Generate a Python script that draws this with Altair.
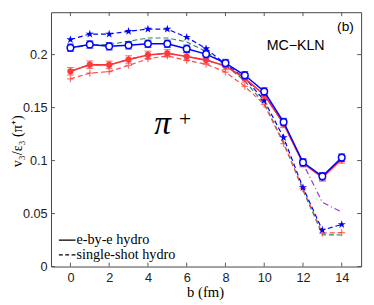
import altair as alt
import pandas as pd

b = list(range(15))

# e-by-e hydro (solid)
blue_eb = [0.2065, 0.2095, 0.2078, 0.2088, 0.2102, 0.2102, 0.2055, 0.2005, 0.1920, 0.1805, 0.1652, 0.1364, 0.0983, 0.0852, 0.1028]
red_eb = [0.1843, 0.1905, 0.1903, 0.1954, 0.1997, 0.2012, 0.1982, 0.1948, 0.1893, 0.1775, 0.1620, 0.1347, 0.0975, 0.0840, 0.1010]
purple_dd = [0.1843, 0.1905, 0.1903, 0.1954, 0.1997, 0.2012, 0.1982, 0.1948, 0.1893, 0.1775, 0.1620, 0.1347, 0.0975, 0.0606, 0.0514]
err_blue = [0.0035] * 15
err_red = [0.0035] * 15

# single-shot hydro (dashed)
blue_ss = [0.2142, 0.2194, 0.2194, 0.2220, 0.2241, 0.2241, 0.2164, 0.2056, 0.1910, 0.1780, 0.1567, 0.1217, 0.0745, 0.0344, 0.0397]
green_ss = [0.2060, 0.2090, 0.2095, 0.2126, 0.2157, 0.2157, 0.2120, 0.2030, 0.1900, 0.1750, 0.1540, 0.1170, 0.0720, 0.0300, 0.0298]
red_ss = [0.1771, 0.1825, 0.1840, 0.1898, 0.1960, 0.1988, 0.1945, 0.1910, 0.1835, 0.1700, 0.1530, 0.1160, 0.0735, 0.0315, 0.0320]

xticks = [0, 2, 4, 6, 8, 10, 12, 14]
yticks = [0, 0.05, 0.1, 0.15, 0.2]

W, H = 317, 260
xs = alt.Scale(domain=[-1, 15], nice=False, zero=False)
ys = alt.Scale(domain=[0, 0.24], nice=False, zero=False)

STAR = ("M0,-1L0.2245,-0.309L0.951,-0.309L0.363,0.118L0.588,0.809L0,0.382"
        "L-0.588,0.809L-0.363,0.118L-0.951,-0.309L-0.2245,-0.309Z")
PLUS = "M-1,0L1,0M0,-1L0,1"

XAX = alt.Axis(values=xticks, ticks=False, domain=False, grid=False, title=None,
               labelFont="Liberation Sans", labelFontSize=13, labelColor="#222", labelPadding=5)
YAX = alt.Axis(values=yticks, format="~g", ticks=False, domain=False, grid=False, title=None,
               labelFont="Liberation Sans", labelFontSize=13, labelColor="#222", labelPadding=4)


def frame(vals, err=None):
    d = pd.DataFrame({"b": b, "v": vals})
    if err is not None:
        d["lo"] = [v - e for v, e in zip(vals, err)]
        d["hi"] = [v + e for v, e in zip(vals, err)]
    return d


def XE(f="b"):
    return alt.X(f"{f}:Q", scale=xs, axis=XAX, title=None)


def YE(f="v"):
    return alt.Y(f"{f}:Q", scale=ys, axis=YAX, title=None)


dash = [5, 3]


def line(vals, color, dashv=None, width=1.3):
    kw = dict(color=color, strokeWidth=width)
    if dashv:
        kw["strokeDash"] = dashv
    return alt.Chart(frame(vals)).mark_line(**kw).encode(x=XE(), y=YE())


green_line = line(green_ss, "#2e8b57", dash, 1.2)
red_ss_line = line(red_ss, "#ff4a4a", dash, 1.2)
red_ss_pts = alt.Chart(frame(red_ss)).mark_point(
    shape=PLUS, filled=False, color="#ff3a3a", size=45, strokeWidth=1.3
).encode(x=XE(), y=YE())
blue_ss_line = line(blue_ss, "#0000ff", dash, 1.2)
blue_ss_pts = alt.Chart(frame(blue_ss)).mark_point(
    shape=STAR, filled=True, color="#0000ff", size=75, opacity=1
).encode(x=XE(), y=YE())
purple_line = line(purple_dd, "#9b30d9", [6, 3, 1, 3], 1.2)


def errbars(vals, err, color, width):
    d = frame(vals, err)
    r = alt.Chart(d).mark_rule(color=color, strokeWidth=width).encode(x=XE(), y=YE("lo"), y2="hi:Q")
    c1 = alt.Chart(d).mark_tick(color=color, thickness=width, size=7, orient="horizontal").encode(x=XE(), y=YE("lo"))
    c2 = alt.Chart(d).mark_tick(color=color, thickness=width, size=7, orient="horizontal").encode(x=XE(), y=YE("hi"))
    return [r, c1, c2]


red_eb_line = line(red_eb, "#ff3030", None, 1.6)
red_err = errbars(red_eb, err_red, "#ff4040", 1.2)
red_eb_pts = alt.Chart(frame(red_eb)).mark_point(
    shape="circle", filled=True, color="#ff3a3a", size=40, opacity=1
).encode(x=XE(), y=YE())

blue_eb_line = line(blue_eb, "#0000ff", None, 1.5)
blue_err = errbars(blue_eb, err_blue, "#0000ff", 1.1)
blue_eb_pts = alt.Chart(frame(blue_eb)).mark_point(
    shape="circle", filled=True, fill="white", stroke="#0000ff", strokeWidth=1.5, size=45, opacity=1
).encode(x=XE(), y=YE())

# inward ticks (box style)
tick_col = "#555"
xt = pd.DataFrame({"b": xticks})
yt = pd.DataFrame({"v": yticks})
tb = alt.Chart(xt).mark_rule(color=tick_col).encode(x=XE(), y=alt.value(H), y2=alt.value(H - 4))
tt = alt.Chart(xt).mark_rule(color=tick_col).encode(x=XE(), y=alt.value(0), y2=alt.value(4))
tl = alt.Chart(yt).mark_rule(color=tick_col).encode(y=YE(), x=alt.value(0), x2=alt.value(4))
tr = alt.Chart(yt).mark_rule(color=tick_col).encode(y=YE(), x=alt.value(W), x2=alt.value(W - 4))


def text(t, x, y, size, font="Liberation Sans", style="normal", align="center", baseline="alphabetic", angle=None):
    kw = dict(text=t, fontSize=size, font=font, fontStyle=style, align=align, baseline=baseline, color="black")
    if angle is not None:
        kw["angle"] = angle
    return alt.Chart(pd.DataFrame({"k": [0]})).mark_text(**kw).encode(x=alt.value(x), y=alt.value(y))


pi_txt = text("π", 114, 124, 34, font="Liberation Serif", style="italic")
plus_txt = text("+", 137, 116, 22, font="Liberation Serif")
mc_txt = text("MC−KLN", 250, 39, 14.5)
b_txt = text("(b)", 301, 19, 14)
xtitle = text("b (fm)", 158, 286, 15, font="Liberation Serif", baseline="middle")
ytitle = text("v₃/ε₃ (π⁺)", -34, 132, 14.5, font="Liberation Serif", baseline="middle", angle=270)

leg_solid = alt.Chart(pd.DataFrame({"k": [0]})).mark_rule(color="black", strokeWidth=1.3).encode(
    x=alt.value(8), x2=alt.value(25), y=alt.value(233))
leg_dash = alt.Chart(pd.DataFrame({"k": [0]})).mark_rule(color="black", strokeWidth=1.3, strokeDash=[4, 2.5]).encode(
    x=alt.value(8), x2=alt.value(25), y=alt.value(248))
leg_t1 = text("e-by-e hydro", 26, 233, 14.5, font="Liberation Serif", align="left", baseline="middle")
leg_t2 = text("single-shot hydro", 26, 248, 14.5, font="Liberation Serif", align="left", baseline="middle")

chart = alt.layer(
    tb, tt, tl, tr,
    green_line, red_ss_line, red_ss_pts, blue_ss_line, blue_ss_pts, purple_line,
    red_eb_line, *red_err, red_eb_pts,
    blue_eb_line, *blue_err, blue_eb_pts,
    pi_txt, plus_txt, mc_txt, b_txt, xtitle, ytitle,
    leg_solid, leg_dash, leg_t1, leg_t2,
).properties(
    width=W, height=H,
    autosize=alt.AutoSizeParams(type="none"),
    padding={"left": 44, "top": 1, "right": 5, "bottom": 36},
).configure_view(stroke="#444", strokeWidth=1)

chart.save("out.html", embed_options={"renderer": "svg", "actions": False})
